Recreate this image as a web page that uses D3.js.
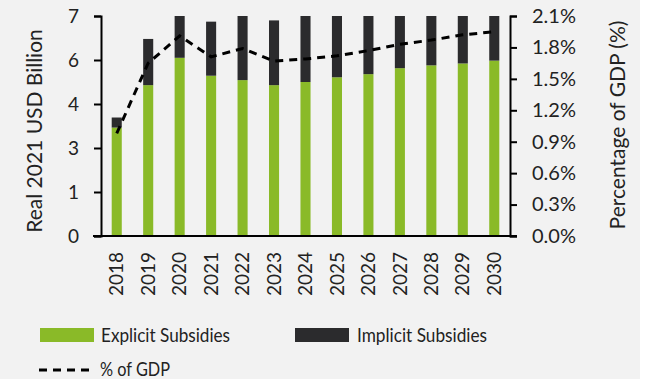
<!DOCTYPE html>
<html>
<head>
<meta charset="utf-8">
<script src="https://cdn.jsdelivr.net/npm/d3@7"></script>
<style>
  body { margin: 0; background: #fff; }
  svg text { font-family: Lato, "Open Sans", sans-serif; fill: #222; }
</style>
</head>
<body>
<div id="chart"></div>
<script>
const years = ["2018", "2019", "2020", "2021", "2022", "2023", "2024",
               "2025", "2026", "2027", "2028", "2029", "2030"];
const explicit = [3.45, 4.80, 5.67, 5.10, 4.96, 4.80, 4.90, 5.05, 5.15, 5.34, 5.43, 5.49, 5.58];
const implicit = [0.32, 1.47, 2.05, 1.72, 2.30, 2.06, 2.20, 2.15, 2.10, 2.05, 2.00, 2.00, 1.95];
const gdpShare = [0.98, 1.65, 1.91, 1.71, 1.79, 1.67, 1.69, 1.72, 1.77, 1.83, 1.87, 1.92, 1.95];
const leftTicks = [0, 1.4, 2.8, 4.2, 5.6, 7];
const rightTicks = [0, 0.3, 0.6, 0.9, 1.2, 1.5, 1.8, 2.1];

const width = 653, height = 379;
const margin = { top: 16, right: 143, bottom: 143, left: 101 };

const svg = d3.select("#chart").append("svg")
    .attr("width", width)
    .attr("height", height);

svg.append("rect")
    .attr("width", 640).attr("height", height)
    .attr("fill", "#f2f2f2");

const x = d3.scaleBand()
    .domain(years)
    .range([margin.left, width - margin.right])
    .paddingInner(0.68)
    .paddingOuter(0.34);

const y = d3.scaleLinear()
    .domain([0, 7])
    .range([height - margin.bottom, margin.top]);

const y2 = d3.scaleLinear()
    .domain([0, 2.1])
    .range([height - margin.bottom, margin.top]);

svg.append("clipPath").attr("id", "plot-clip")
    .append("rect")
    .attr("x", margin.left).attr("y", margin.top)
    .attr("width", width - margin.left - margin.right)
    .attr("height", height - margin.top - margin.bottom);

const stacked = d3.stack().keys(["explicit", "implicit"])(
    years.map((yr, i) => ({ year: yr, explicit: explicit[i], implicit: implicit[i] })));
const colors = { explicit: "#8aba28", implicit: "#2b2b2d" };

svg.append("g").attr("clip-path", "url(#plot-clip)")
    .selectAll("g")
    .data(stacked)
    .join("g")
    .attr("fill", d => colors[d.key])
    .selectAll("rect")
    .data(d => d)
    .join("rect")
    .attr("x", d => x(d.data.year))
    .attr("y", d => y(d[1]))
    .attr("width", x.bandwidth())
    .attr("height", d => y(d[0]) - y(d[1]));

// % of GDP line on the right-hand scale
const line = d3.line()
    .x((d, i) => x(years[i]) + x.bandwidth() / 2)
    .y(d => y2(d));

svg.append("path")
    .datum(gdpShare)
    .attr("fill", "none")
    .attr("stroke", "#000")
    .attr("stroke-width", 3)
    .attr("stroke-dasharray", "8,6")
    .attr("d", line);

// axes
const leftAxis = svg.append("g")
    .attr("transform", `translate(${margin.left},0)`)
    .call(d3.axisLeft(y).tickValues(leftTicks).tickFormat(d3.format(".0f")).tickSizeOuter(0).tickSize(7).tickPadding(15));

const rightAxis = svg.append("g")
    .attr("transform", `translate(${width - margin.right},0)`)
    .call(d3.axisRight(y2).tickValues(rightTicks).tickFormat(d => d.toFixed(1) + "%").tickSizeOuter(0).tickSize(7).tickPadding(15));

const bottomAxis = svg.append("g")
    .attr("transform", `translate(0,${height - margin.bottom})`)
    .call(d3.axisBottom(x).tickSize(0).tickPadding(16));

bottomAxis.select(".domain")
    .attr("d", `M${margin.left - 8},0H${width - margin.right + 7}`);

bottomAxis.selectAll("text")
    .attr("transform", "rotate(-90)")
    .attr("text-anchor", "end")
    .attr("x", -16).attr("y", 0)
    .attr("dy", "0.35em");

[leftAxis, rightAxis, bottomAxis].forEach(g => {
    g.select(".domain").attr("stroke", "#000").attr("stroke-width", 2);
    g.selectAll(".tick line").attr("stroke", "#000").attr("stroke-width", 2);
    g.selectAll("text").attr("font-size", 19).attr("font-family", null).attr("fill", "#222");
});
rightAxis.selectAll("text").attr("font-size", 20);

// axis titles
svg.append("text")
    .attr("transform", `translate(42,${(margin.top + height - margin.bottom) / 2 + 5}) rotate(-90)`)
    .attr("text-anchor", "middle")
    .attr("font-size", 21)
    .text("Real 2021 USD Billion");

svg.append("text")
    .attr("transform", `translate(625,${(margin.top + height - margin.bottom) / 2 - 1}) rotate(-90)`)
    .attr("text-anchor", "middle")
    .attr("font-size", 21)
    .text("Percentage of GDP (%)");

// legend
const legend = svg.append("g");
legend.append("rect").attr("x", 40).attr("y", 328).attr("width", 54).attr("height", 14).attr("fill", colors.explicit);
legend.append("text").attr("x", 101).attr("y", 342).attr("font-size", 20)
    .attr("textLength", 129).attr("lengthAdjust", "spacingAndGlyphs").text("Explicit Subsidies");
legend.append("rect").attr("x", 295).attr("y", 328).attr("width", 54).attr("height", 14).attr("fill", colors.implicit);
legend.append("text").attr("x", 357).attr("y", 342).attr("font-size", 20)
    .attr("textLength", 130).attr("lengthAdjust", "spacingAndGlyphs").text("Implicit Subsidies");
legend.append("line")
    .attr("x1", 39).attr("x2", 93).attr("y1", 370).attr("y2", 370)
    .attr("stroke", "#000").attr("stroke-width", 3).attr("stroke-dasharray", "8,6");
legend.append("text").attr("x", 100).attr("y", 376).attr("font-size", 20)
    .attr("textLength", 70).attr("lengthAdjust", "spacingAndGlyphs").text("% of GDP");
</script>
</body>
</html>
